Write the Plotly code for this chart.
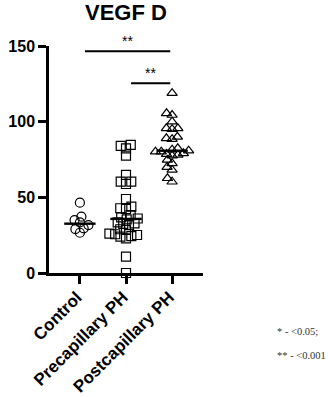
import numpy as np
import plotly.graph_objects as go

# VEGF D levels per group
categories = ["Control", "Precapillary PH", "Postcapillary PH"]
control = [46.5, 37.2, 35.0, 33.5, 31.7, 29.5, 29.0, 26.6]
precapillary = [84.6, 84.0, 82.4, 77.5, 64.8, 60.4, 60.4, 58.8, 48.9, 43.8,
                42.8, 42.3, 38.3, 36.8, 36.0, 35.5, 33.5, 32.8, 32.4, 31.7,
                28.9, 28.4, 26.0, 25.6, 25.1, 24.4, 24.0, 22.9, 10.8, 0.0]
postcapillary = [118.8, 105.5, 104.4, 100.0, 95.6, 95.6, 95.0, 90.0, 89.0,
                 88.4, 82.4, 81.5, 80.8, 80.2, 80.2, 79.1, 78.6, 78.0, 77.5,
                 74.7, 72.5, 70.0, 68.1, 62.6, 60.3]
groups = [control, precapillary, postcapillary]
symbols = ["circle-open", "square-open", "triangle-up-open"]

# significance brackets: (from group, to group, height, label)
brackets = [(0, 2, 146.5, "**"), (1, 2, 125.4, "**")]
footnotes = ["* - <0.05;", "** - <0.001"]

# layout geometry (pixels)
W, H = 328, 397
ML, MR, MT, MB = 49, 125, 46, 124
XR = [-0.67, 2.67]
YR = [0, 150]
MSIZE = 9
FONT = "Liberation Sans, Arial"
px_per_x = (W - ML - MR) / (XR[1] - XR[0])
px_per_y = (H - MT - MB) / (YR[1] - YR[0])


def swarm(values, diam_px):
    """Beeswarm offsets (category units); markers may overlap a little."""
    vals = np.asarray(values, float)
    order = np.argsort(vals)
    placed = []  # (y_px, x_px)
    offs = np.zeros(len(vals))
    for i in order:
        y = vals[i] * px_per_y
        blocked = []
        for (py, pxx) in placed:
            dy = abs(py - y)
            if dy < diam_px:
                half = np.sqrt(diam_px ** 2 - dy ** 2)
                blocked.append((pxx - half, pxx + half))
        cands = [0.0] + [b for iv in blocked for b in iv]
        cands = sorted(cands, key=lambda c: (abs(c), c))
        x = 0.0
        for c in cands:
            if all(not (lo + 1e-6 < c < hi - 1e-6) for lo, hi in blocked):
                x = c
                break
        placed.append((y, x))
        offs[i] = x / px_per_x
    return offs


fig = go.Figure()
for gi, (vals, sym) in enumerate(zip(groups, symbols)):
    offs = swarm(vals, 5.8)
    fig.add_trace(go.Scatter(
        x=gi + offs, y=vals, mode="markers",
        marker=dict(symbol=sym, size=MSIZE, color="black",
                    line=dict(width=1.2, color="black")),
        cliponaxis=False, showlegend=False, hoverinfo="y"))
    med = float(np.median(vals))
    fig.add_shape(type="line", x0=gi - 0.34, x1=gi + 0.34, y0=med, y1=med,
                  line=dict(color="black", width=2.4), layer="above")

for a, b, h, lab in brackets:
    fig.add_shape(type="line", x0=a + 0.11, x1=b - 0.04, y0=h, y1=h,
                  line=dict(color="black", width=2))
    fig.add_annotation(x=(a + 0.11 + b - 0.04) / 2, y=h, text=lab,
                       showarrow=False, yanchor="bottom", yshift=0,
                       font=dict(family=FONT, size=14, color="black"))

fig.add_annotation(xref="paper", yref="paper", x=(126 - ML) / (W - ML - MR),
                   y=1 + MT / (H - MT - MB), text="<b>VEGF D</b>",
                   showarrow=False, yanchor="top", xanchor="center",
                   yshift=1, borderpad=0,
                   font=dict(family=FONT, size=22, color="black"))

for k, t in enumerate(footnotes):
    fig.add_annotation(xref="paper", yref="paper",
                       x=(275 - ML) / (W - ML - MR),
                       y=-(331 + 24 * k - (H - MB)) / (H - MT - MB),
                       text=t, showarrow=False, xanchor="left",
                       yanchor="middle",
                       font=dict(family="Liberation Serif, Times New Roman",
                                 size=10.5, color="#333333"))

fig.update_layout(
    width=W, height=H, margin=dict(l=ML, r=MR, t=MT, b=MB, pad=0),
    paper_bgcolor="white", plot_bgcolor="white",
    font=dict(family=FONT, color="black"),
    xaxis=dict(range=XR, tickvals=[0, 1, 2], ticktext=categories,
               tickangle=-45, showgrid=False, zeroline=False, showline=True,
               linecolor="black", linewidth=2.5, ticks="outside",
               ticklen=8, tickwidth=2.5, tickcolor="black", automargin=False,
               ticklabelshift=-3, ticklabelstandoff=-3,
               tickfont=dict(size=17, family=FONT, color="black",
                             weight="bold")),
    yaxis=dict(range=YR, tickvals=[0, 50, 100, 150], showgrid=False,
               zeroline=False, showline=True, linecolor="black",
               linewidth=2.5, ticks="outside", ticklen=8, tickwidth=2.5,
               tickcolor="black", automargin=False,
               tickfont=dict(size=16, family=FONT, color="black",
                             weight="bold")),
)

fig.write_html("out.html")
